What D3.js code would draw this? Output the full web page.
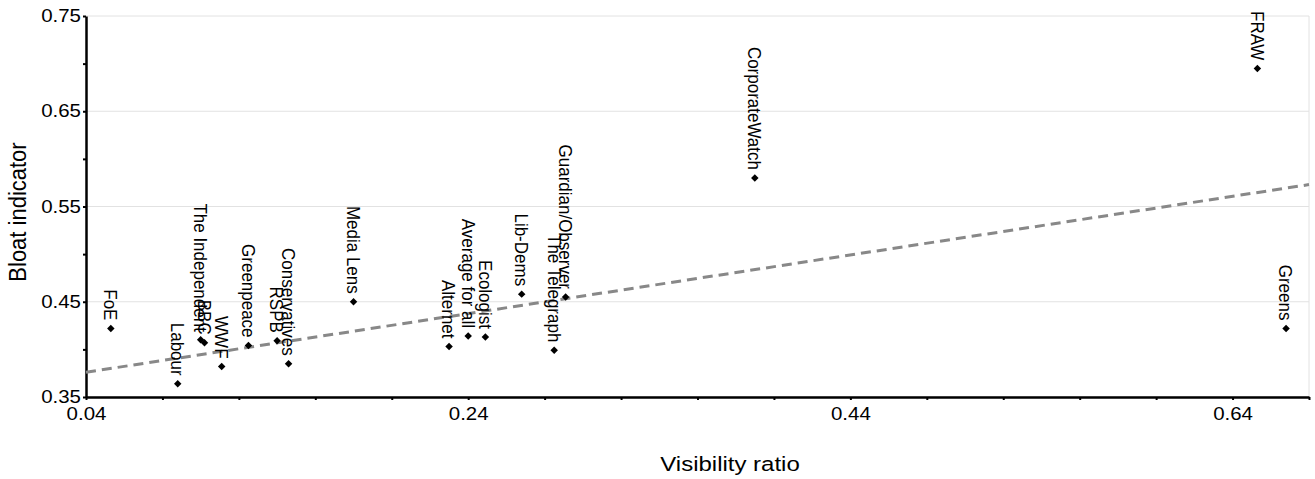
<!DOCTYPE html>
<html>
<head>
<meta charset="utf-8">
<script src="https://d3js.org/d3.v7.min.js"></script>
<style>
  body { margin: 0; background: #fff; }
  text { font-family: "Liberation Sans", Arial, sans-serif; fill: #000; }
</style>
</head>
<body>
<svg id="chart" width="1315" height="479"></svg>
<script>
// data
var names = ["FoE", "Labour", "The Independent", "BBC", "WWF", "Greenpeace", "RSPB",
  "Conservatives", "Media Lens", "Alternet", "Average for all", "Ecologist", "Lib-Dems",
  "The Telegraph", "Guardian/Observer", "CorporateWatch", "FRAW", "Greens"];
var visibility = [0.053, 0.088, 0.100, 0.102, 0.111, 0.125, 0.140,
  0.146, 0.180, 0.230, 0.240, 0.249, 0.268,
  0.285, 0.291, 0.390, 0.653, 0.668];
var bloat = [0.422, 0.364, 0.410, 0.407, 0.382, 0.404, 0.409,
  0.385, 0.450, 0.403, 0.414, 0.413, 0.458,
  0.399, 0.455, 0.580, 0.695, 0.422];
var trendX = [0.04, 0.68];
var trendY = [0.376, 0.573];
var xTickLabels = [0.04, 0.24, 0.44, 0.64];
var yTickLabels = [0.35, 0.45, 0.55, 0.65, 0.75];

var svg = d3.select("#chart"),
    margin = {top: 16, right: 6, bottom: 82, left: 86},
    width = +svg.attr("width") - margin.left - margin.right,
    height = +svg.attr("height") - margin.top - margin.bottom;

// the picture's text is a bit wider than plain Arial
var stretch = 1.17;

var x = d3.scaleLinear().domain([0.04, 0.68]).range([0, width]);
var y = d3.scaleLinear().domain([0.35, 0.75]).range([height, 0]);

var g = svg.append("g")
    .attr("transform", "translate(" + margin.left + "," + margin.top + ")");

// gridlines
g.append("g")
  .selectAll("line")
  .data(yTickLabels)
  .enter().append("line")
    .attr("x1", 0).attr("x2", width)
    .attr("y1", function(d) { return y(d); })
    .attr("y2", function(d) { return y(d); })
    .attr("stroke", "#e2e2e2");

g.append("line")
    .attr("x1", width).attr("x2", width)
    .attr("y1", 0).attr("y2", height)
    .attr("stroke", "#e2e2e2");

// minor ticks every 0.04 on x, every 0.05 on y
var xTicks = d3.range(0.04, 0.6801, 0.04);
var yTicks = d3.range(0.35, 0.7501, 0.05);

function isLabel(list, d) {
  return list.some(function(v) { return Math.abs(v - d) < 1e-6; });
}

var xAxis = g.append("g")
    .attr("transform", "translate(0," + height + ")")
    .call(d3.axisBottom(x).tickValues(xTicks).tickSize(3).tickSizeOuter(0)
      .tickFormat(function(d) { return isLabel(xTickLabels, d) ? d3.format(".2f")(d) : ""; }));
xAxis.select(".domain").attr("stroke", "#000").attr("stroke-width", 2.5);
xAxis.selectAll(".tick line").attr("stroke", "#000").attr("stroke-width", 2);
xAxis.selectAll("text")
    .style("font-size", "17.5px")
    .attr("y", 0).attr("dy", null)
    .attr("transform", "translate(0,23) scale(" + stretch + ",1)");

var yAxis = g.append("g")
    .call(d3.axisLeft(y).tickValues(yTicks).tickSize(3).tickSizeOuter(0)
      .tickFormat(function(d) { return isLabel(yTickLabels, d) ? d3.format(".2f")(d) : ""; }));
yAxis.select(".domain").attr("stroke", "#000").attr("stroke-width", 2.5);
yAxis.selectAll(".tick line").attr("stroke", "#000").attr("stroke-width", 2);
yAxis.selectAll("text")
    .style("font-size", "17.5px")
    .attr("x", 0)
    .attr("transform", "translate(-5,0) scale(" + stretch + ",1)");

// trend line
g.append("line")
    .attr("x1", x(trendX[0])).attr("y1", y(trendY[0]))
    .attr("x2", x(trendX[1])).attr("y2", y(trendY[1]))
    .attr("stroke", "#888")
    .attr("stroke-width", 3)
    .attr("stroke-dasharray", "10,6");

var points = names.map(function(n, i) { return {name: n, vx: visibility[i], by: bloat[i]}; });

var node = g.append("g")
  .selectAll("g")
  .data(points)
  .enter().append("g")
    .attr("transform", function(d) { return "translate(" + x(d.vx) + "," + y(d.by) + ")"; });

node.append("path")
    .attr("d", d3.symbol().type(d3.symbolSquare).size(28))
    .attr("transform", "rotate(45)")
    .attr("fill", "#000");

node.append("text")
    .text(function(d) { return d.name; })
    .attr("transform", "translate(0,-8) rotate(90) scale(1,1.12)")
    .attr("text-anchor", "end")
    .attr("dy", "0.35em")
    .style("font-size", "17px");

// axis titles
svg.append("text")
    .attr("transform", "translate(730,471) scale(" + stretch + ",1)")
    .attr("text-anchor", "middle")
    .style("font-size", "20.5px")
    .text("Visibility ratio");

svg.append("text")
    .attr("transform", "translate(26,212) rotate(-90) scale(1,1.06)")
    .attr("text-anchor", "middle")
    .style("font-size", "22px")
    .text("Bloat indicator");
</script>
</body>
</html>
